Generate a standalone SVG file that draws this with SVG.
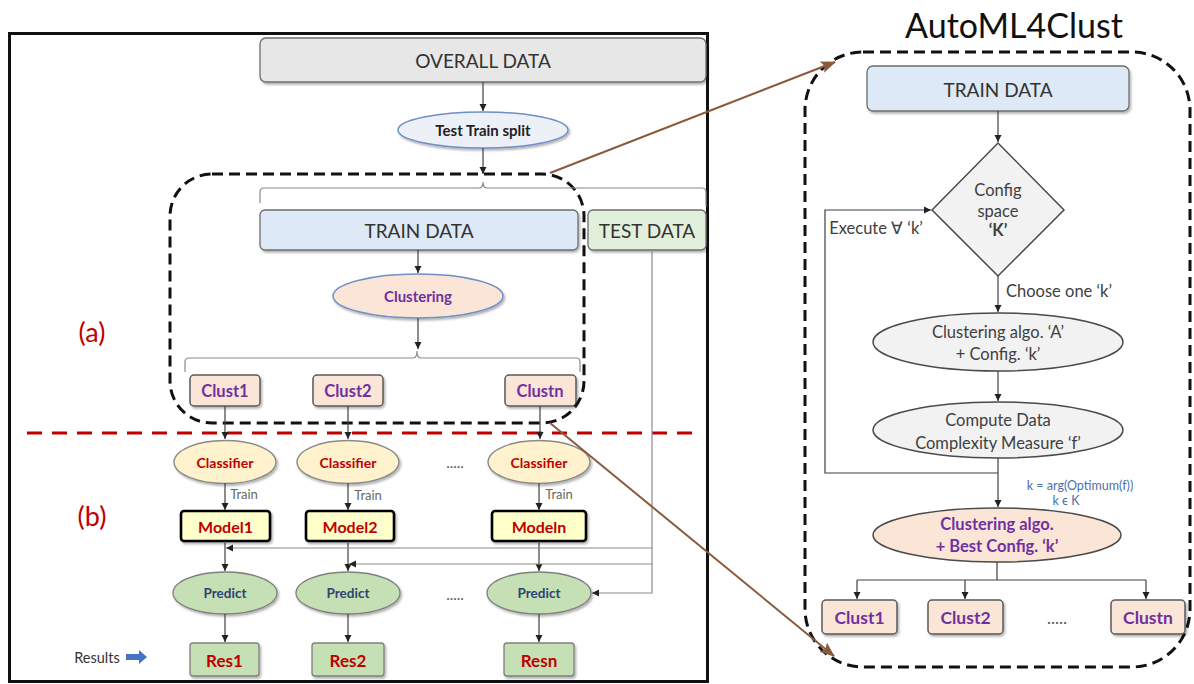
<svg xmlns="http://www.w3.org/2000/svg" width="1194" height="684" viewBox="0 0 1194 684">
<defs>
<marker id="ah" markerWidth="8" markerHeight="8" refX="7" refY="4" orient="auto" markerUnits="userSpaceOnUse"><path d="M0,0.5 L7,4 L0,7.5 z" fill="#222"/></marker>
<marker id="bh" markerWidth="16" markerHeight="12" refX="14" refY="6" orient="auto" markerUnits="userSpaceOnUse"><path d="M0,0 L15,6 L0,12 L3,6 z" fill="#8b5a3c"/></marker>
<filter id="sh" x="-10%" y="-10%" width="130%" height="140%"><feDropShadow dx="1.5" dy="2" stdDeviation="1.2" flood-color="#000" flood-opacity="0.3"/></filter>
</defs>
<style>
text{font-family:Lato,"Liberation Sans",sans-serif;text-anchor:middle;dominant-baseline:central}
.big{font-size:19px;fill:#333}
.b{font-weight:bold}
.pur{fill:#7030a0}
.red{fill:#c00000}
.box{stroke:#6e6e6e;stroke-width:1.3}
.line{fill:none;stroke:#404040;stroke-width:1.2}
.thin{fill:none;stroke:#8a8a8a;stroke-width:1.2}
.arr{fill:none;stroke:#404040;stroke-width:1.2;marker-end:url(#ah)}
.dash{fill:none;stroke:#111;stroke-width:3;stroke-dasharray:11,6}
.brown{fill:none;stroke:#8b5a3c;stroke-width:2;marker-end:url(#bh)}
.peach{fill:#fbe5d6}
.clbox{fill:#fbe5d6;stroke:#5a5a5a;stroke-width:1.5}
.cls{fill:#fff2cc;stroke:#8a8a8a;stroke-width:1.3}
.mdl{fill:#ffffcc;stroke:#000;stroke-width:2.6}
.grn{fill:#c5e0b4;stroke:#7f7f7f;stroke-width:1.3}
.gry{fill:#f2f2f2;stroke:#4a4a4a;stroke-width:1.5}
.rt{font-size:16.5px;fill:#404040}
</style>
<rect width="1194" height="684" fill="#fff"/>

<!-- left frame -->
<rect x="9.5" y="33.5" width="698" height="648" fill="none" stroke="#111" stroke-width="3"/>

<g id="overall-data"><rect x="260" y="38" width="446" height="44" rx="6" fill="#e7e7e7" class="box" filter="url(#sh)"/><text x="483" y="60" class="big">OVERALL DATA</text></g>
<g id="test-train-split"><ellipse cx="483" cy="130" rx="85" ry="18" fill="#edf0f6" stroke="#6f8fc8" stroke-width="1.5" filter="url(#sh)"/><text x="483" y="130" class="b" font-size="15" fill="#222">Test Train split</text></g>
<g id="train-data"><rect x="260" y="210" width="318" height="40" rx="5" fill="#dde9f6" class="box" filter="url(#sh)"/><text x="419" y="230" class="big">TRAIN DATA</text></g>
<g id="test-data"><rect x="588" y="210" width="118" height="40" rx="5" fill="#e2efda" class="box" filter="url(#sh)"/><text x="647" y="230" class="big">TEST DATA</text></g>
<g id="clustering"><ellipse cx="418" cy="296" rx="85" ry="22" class="peach" stroke="#6f8fc8" stroke-width="1.5" filter="url(#sh)"/><text x="418" y="296" class="b pur" font-size="15">Clustering</text></g>
<g id="clust1"><rect x="190" y="375" width="70" height="31" rx="4" class="clbox" filter="url(#sh)"/><text x="225" y="391" class="b pur" font-size="16.5">Clust1</text></g>
<g id="clust2"><rect x="313" y="375" width="70" height="31" rx="4" class="clbox" filter="url(#sh)"/><text x="348" y="391" class="b pur" font-size="16.5">Clust2</text></g>
<g id="clustn"><rect x="505" y="375" width="71" height="31" rx="4" class="clbox" filter="url(#sh)"/><text x="540" y="391" class="b pur" font-size="16.5">Clustn</text></g>

<g id="region-a"><rect x="170" y="174" width="414" height="249" rx="42" class="dash"/><text x="92" y="331" font-size="27" fill="#c00000">(a)</text></g>
<g id="divider"><line x1="27" y1="433" x2="692" y2="433" stroke="#c00000" stroke-width="3" stroke-dasharray="15,10"/></g>
<g id="region-b-label"><text x="92" y="515" font-size="27" fill="#c00000">(b)</text></g>

<g id="classifier1"><ellipse cx="225" cy="462" rx="51" ry="21.5" class="cls" filter="url(#sh)"/><text x="225" y="462" class="b red" font-size="14">Classifier</text></g>
<g id="classifier2"><ellipse cx="348" cy="462" rx="51" ry="21.5" class="cls" filter="url(#sh)"/><text x="348" y="462" class="b red" font-size="14">Classifier</text></g>
<g id="classifiern"><ellipse cx="539" cy="462" rx="51" ry="21.5" class="cls" filter="url(#sh)"/><text x="539" y="462" class="b red" font-size="14">Classifier</text></g>
<text x="455" y="462" font-size="15" fill="#555">.....</text>

<g id="model1"><rect x="181" y="511" width="89" height="30" rx="3" class="mdl" filter="url(#sh)"/><text x="225.5" y="526" class="b red" font-size="16">Model1</text></g>
<g id="model2"><rect x="306" y="511" width="88" height="30" rx="3" class="mdl" filter="url(#sh)"/><text x="350" y="526" class="b red" font-size="16">Model2</text></g>
<g id="modeln"><rect x="492" y="511" width="94" height="30" rx="3" class="mdl" filter="url(#sh)"/><text x="539" y="526" class="b red" font-size="16">Modeln</text></g>

<g id="predict1"><ellipse cx="225" cy="593" rx="52" ry="21" class="grn" filter="url(#sh)"/><text x="225" y="593" class="b" font-size="13.5" fill="#2b4470">Predict</text></g>
<g id="predict2"><ellipse cx="348" cy="593" rx="52" ry="21" class="grn" filter="url(#sh)"/><text x="348" y="593" class="b" font-size="13.5" fill="#2b4470">Predict</text></g>
<g id="predictn"><ellipse cx="539" cy="593" rx="52" ry="21" class="grn" filter="url(#sh)"/><text x="539" y="593" class="b" font-size="13.5" fill="#2b4470">Predict</text></g>
<text x="455" y="594" font-size="15" fill="#555">.....</text>

<g id="res1"><rect x="190" y="643" width="69" height="33" rx="3" class="grn" filter="url(#sh)"/><text x="224.5" y="660" class="b red" font-size="17">Res1</text></g>
<g id="res2"><rect x="312" y="643" width="72" height="33" rx="3" class="grn" filter="url(#sh)"/><text x="348" y="660" class="b red" font-size="17">Res2</text></g>
<g id="resn"><rect x="504" y="643" width="70" height="33" rx="3" class="grn" filter="url(#sh)"/><text x="539" y="660" class="b red" font-size="17">Resn</text></g>
<g id="results-label"><text x="97" y="657" font-size="14.5" fill="#333">Results</text><path d="M126,654 L139,654 L139,650 L147,657 L139,664 L139,660 L126,660 z" fill="#4472c4"/></g>

<!-- right panel -->
<g id="automl-title"><text x="1014" y="24" font-size="34" fill="#111">AutoML4Clust</text></g>
<g id="automl-frame"><rect x="805" y="52" width="385" height="615" rx="58" class="dash"/></g>
<g id="r-train-data"><rect x="867" y="66" width="262" height="45" rx="6" fill="#dde9f6" class="box" filter="url(#sh)"/><text x="998" y="89" class="big" font-size="20">TRAIN DATA</text></g>
<g id="config-space"><path d="M998,143 L1064,210 L998,276 L932,210 z" class="gry"/><text x="998" y="190" class="rt" font-size="14">Config</text><text x="998" y="211" class="rt" font-size="14">space</text><text x="998" y="230" class="rt b" font-size="14" fill="#222">‘K’</text></g>
<g id="cluster-algo"><ellipse cx="998" cy="342" rx="125" ry="29" class="gry"/><text x="998" y="332" class="rt">Clustering algo. ‘A’</text><text x="998" y="354" class="rt">+ Config. ‘k’</text></g>
<g id="complexity"><ellipse cx="998" cy="430" rx="125" ry="28" class="gry"/><text x="998" y="420" class="rt">Compute Data</text><text x="998" y="443" class="rt">Complexity Measure ‘f’</text></g>
<g id="best-config"><ellipse cx="997" cy="535" rx="124" ry="27" class="peach" stroke="#4a4a4a" stroke-width="1.5"/><text x="997" y="524" class="b pur" font-size="16.5">Clustering algo.</text><text x="997" y="546" class="b pur" font-size="16.5">+ Best Config. ‘k’</text></g>
<g id="r-clust1"><rect x="822" y="600" width="75" height="34" rx="4" class="clbox" filter="url(#sh)"/><text x="859.5" y="617" class="b pur" font-size="17.5">Clust1</text></g>
<g id="r-clust2"><rect x="928" y="600" width="75" height="34" rx="4" class="clbox" filter="url(#sh)"/><text x="965.5" y="617" class="b pur" font-size="17.5">Clust2</text></g>
<g id="r-clustn"><rect x="1111" y="600" width="74" height="34" rx="4" class="clbox" filter="url(#sh)"/><text x="1148" y="617" class="b pur" font-size="17.5">Clustn</text></g>
<text x="1057" y="617" font-size="17" fill="#555">.....</text>
<text x="876" y="228" class="rt" font-size="14">Execute ∀ ‘k’</text>
<text x="1059" y="291" class="rt" font-size="14.5">Choose one ‘k’</text>
<text x="1080" y="485" font-size="12.5" fill="#4a6fb0">k = arg(Optimum(f))</text>
<text x="1066" y="500" font-size="12.5" fill="#4a6fb0">k ϵ K</text>

<g id="connectors">
<line x1="483" y1="82" x2="483" y2="111" class="arr"/>
<line x1="483" y1="148" x2="483" y2="174" class="arr"/>
<path d="M260,203 L260,192 Q260,188 264,188 L479,188 Q483,188 483,182 Q483,188 487,188 L702,188 Q706,188 706,192 L706,207" class="thin"/>
<line x1="418" y1="250" x2="418" y2="273" class="arr"/>
<line x1="418" y1="318" x2="418" y2="349" class="arr"/>
<path d="M185,372 L185,362 Q185,358 189,358 L413,358 Q417,358 417,351 Q417,358 421,358 L576,358 Q580,358 580,362 L580,372" class="thin"/>
<line x1="225" y1="406" x2="225" y2="439" class="arr"/>
<line x1="348" y1="406" x2="348" y2="439" class="arr"/>
<line x1="540" y1="406" x2="540" y2="439" class="arr"/>
<line x1="225" y1="483" x2="225" y2="510" class="arr"/>
<line x1="348" y1="483" x2="348" y2="510" class="arr"/>
<line x1="539" y1="483" x2="539" y2="510" class="arr"/>
<text x="244" y="494" font-size="13" fill="#666">Train</text>
<text x="368" y="495" font-size="13" fill="#666">Train</text>
<text x="559" y="494" font-size="13" fill="#666">Train</text>
<line x1="225" y1="541" x2="225" y2="571" class="arr"/>
<line x1="348" y1="541" x2="348" y2="571" class="arr"/>
<line x1="539" y1="541" x2="539" y2="571" class="arr"/>
<line x1="225" y1="614" x2="225" y2="642" class="arr"/>
<line x1="348" y1="614" x2="348" y2="642" class="arr"/>
<line x1="539" y1="614" x2="539" y2="642" class="arr"/>
<path d="M652,250 L652,593 L592,593" class="thin" style="marker-end:url(#ah)"/>
<path d="M652,548 L226,548" class="thin" style="marker-end:url(#ah)"/>
<path d="M652,564 L349,564" class="thin" style="marker-end:url(#ah)"/>
<line x1="550" y1="173" x2="835" y2="62" class="brown"/>
<line x1="550" y1="423" x2="834" y2="656" class="brown"/>
<line x1="998" y1="111" x2="998" y2="142" class="arr"/>
<line x1="998" y1="276" x2="998" y2="312" class="arr"/>
<line x1="998" y1="371" x2="998" y2="401" class="arr"/>
<line x1="998" y1="458" x2="998" y2="507" class="arr"/>
<path d="M998,473 L825,473 L825,210 L931,210" class="line" style="marker-end:url(#ah)"/>
<path d="M997,562 L997,580 M857,580 L1146,580" class="line"/>
<line x1="857" y1="580" x2="857" y2="599" class="arr"/>
<line x1="965" y1="580" x2="965" y2="599" class="arr"/>
<line x1="1146" y1="580" x2="1146" y2="599" class="arr"/>
</g>
</svg>
